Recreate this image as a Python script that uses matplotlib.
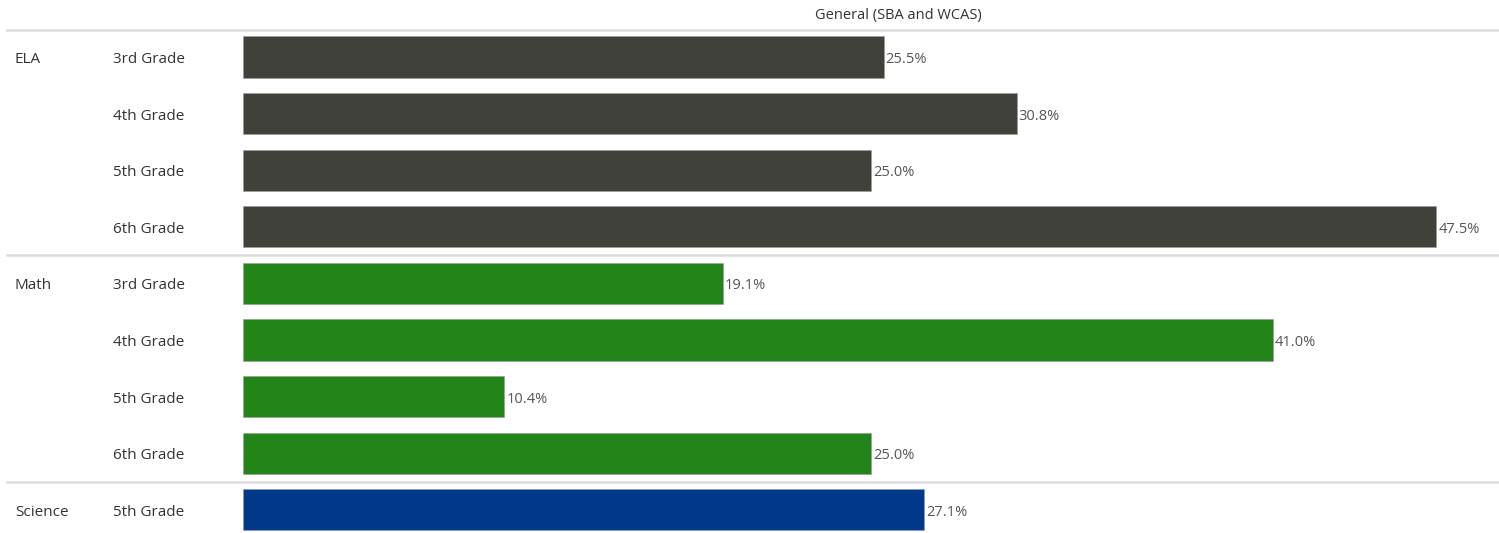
import matplotlib
matplotlib.use("Agg")
from matplotlib import pyplot as plt
from matplotlib import transforms
import numpy as np

plt.rcParams['font.family'] = ['Open Sans', 'DejaVu Sans']

subjects = ['ELA', 'ELA', 'ELA', 'ELA', 'Math', 'Math', 'Math', 'Math', 'Science']
grades = ['3rd Grade', '4th Grade', '5th Grade', '6th Grade',
          '3rd Grade', '4th Grade', '5th Grade', '6th Grade',
          '5th Grade']
values = [25.5, 30.8, 25.0, 47.5, 19.1, 41.0, 10.4, 25.0, 27.1]
subject_colors = {'ELA': '#41413c', 'Math': '#228419', 'Science': '#00388a'}
title = 'General (SBA and WCAS)'

W, H = 1499, 533
fig = plt.figure(figsize=(W / 100, H / 100), dpi=100)
left = 243 / W
ax = fig.add_axes([left, 0, 1 - left, 1])

row_px = 56.6
first_px = 57
y = np.arange(len(values))
cols = [subject_colors[s] for s in subjects]
ax.barh(y, values, height=0.73, color=cols, edgecolor='#9a9a9a', linewidth=0.4)
ax.set_xlim(0, 50)
ax.set_ylim(8 + (H - first_px - 8 * row_px) / row_px, -first_px / row_px)
ax.axis('off')

dy = 2.5 / row_px  # nudge text down a little

for yi, v in zip(y, values):
    ax.text(v + 0.08, yi + dy, '%.1f%%' % v, va='center', ha='left',
            fontsize=10.5, color='#555555')

tr = transforms.blended_transform_factory(fig.transFigure, ax.transData)
prev = None
for yi, (s, g) in enumerate(zip(subjects, grades)):
    if s != prev:
        ax.text(15 / W, yi + dy, s, transform=tr, va='center', ha='left',
                fontsize=11, color='#333333')
        prev = s
    ax.text(113 / W, yi + dy, g, transform=tr, va='center', ha='left',
            fontsize=11, color='#333333')

# separator lines
for ys in [-0.48, 3.5, 7.5]:
    ax.plot([7 / W, 1.0], [ys, ys], transform=tr, color='#dcdcdc',
            linewidth=1.8, clip_on=False)

ax.text(898 / W, -(first_px - 16) / row_px, title, transform=tr,
        va='center', ha='center', fontsize=10.5, color='#333333')

fig.savefig('out.png', dpi=100)
